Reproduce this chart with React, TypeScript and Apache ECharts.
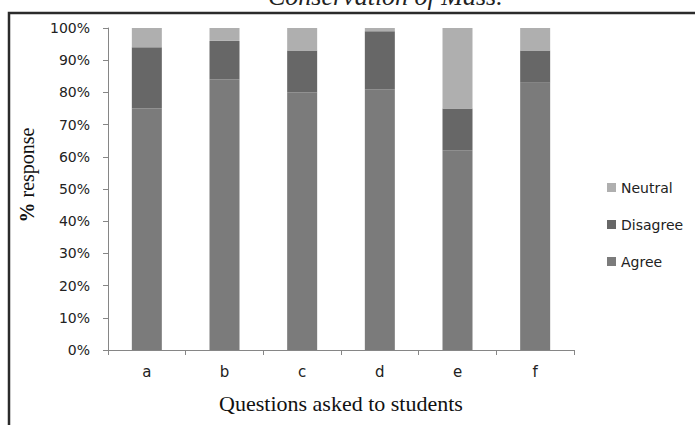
import React, { useEffect, useRef } from "react";
import * as echarts from "echarts";

const categories = ["a", "b", "c", "d", "e", "f"];
const agree = [75, 84, 80, 81, 62, 83];
const disagree = [19, 12, 13, 18, 13, 10];
const neutral = [6, 4, 7, 1, 25, 7];
const yTicks = [0, 10, 20, 30, 40, 50, 60, 70, 80, 90, 100];

const SANS = "'DejaVu Sans', 'Open Sans', sans-serif";
const SERIF = "'Liberation Serif', 'DejaVu Serif', serif";

export default function App() {
  const ref = useRef<HTMLDivElement>(null);

  useEffect(() => {
    if (!ref.current) return;
    const chart = echarts.init(ref.current, undefined, { renderer: "svg" });
    chart.setOption({
      animation: false,
      backgroundColor: "#ffffff",
      grid: { left: 108, top: 28, width: 466, bottom: 75, containLabel: false },
      legend: {
        orient: "vertical",
        left: 602,
        top: 174,
        itemWidth: 9,
        itemHeight: 9,
        itemGap: 20,
        icon: "rect",
        data: ["Neutral", "Disagree", "Agree"],
        textStyle: { fontFamily: SANS, fontSize: 14, color: "#222", lineHeight: 17 },
      },
      xAxis: {
        type: "category",
        data: categories,
        axisLine: { lineStyle: { color: "#868686", width: 1 } },
        axisTick: { show: true, length: 5, lineStyle: { color: "#868686" } },
        axisLabel: { fontFamily: SANS, fontSize: 15, color: "#222", margin: 14 },
        name: "Questions asked to students",
        nameLocation: "middle",
        nameGap: 42,
        nameTextStyle: { fontFamily: SERIF, fontSize: 22, color: "#111" },
      },
      yAxis: {
        type: "value",
        min: 0,
        max: 100,
        interval: 10,
        splitLine: { show: false },
        axisLine: { show: true, lineStyle: { color: "#868686", width: 1 } },
        axisTick: { show: true, length: 5, lineStyle: { color: "#868686" } },
        axisLabel: {
          fontFamily: SANS,
          fontSize: 14,
          color: "#222",
          margin: 18,
          formatter: (v: number) => (yTicks.includes(v) ? v + "%" : ""),
        },
      },
      series: [
        {
          name: "Agree",
          type: "bar",
          stack: "r",
          data: agree,
          barWidth: 30,
          itemStyle: { color: "#7b7b7b" },
        },
        {
          name: "Disagree",
          type: "bar",
          stack: "r",
          data: disagree,
          barWidth: 30,
          itemStyle: { color: "#676767" },
        },
        {
          name: "Neutral",
          type: "bar",
          stack: "r",
          data: neutral,
          barWidth: 30,
          itemStyle: { color: "#afafaf" },
        },
      ],
      graphic: [
        {
          type: "text",
          left: 268,
          top: -17,
          style: {
            text: "Conservation of Mass.",
            font: "italic 26px 'Liberation Serif', serif",
            fill: "#222",
          },
        },
        {
          type: "text",
          x: 27,
          y: 175,
          rotation: Math.PI / 2,
          style: {
            text: "{b|%} response",
            fontFamily: SERIF,
            fontSize: 20,
            fill: "#111",
            align: "center",
            verticalAlign: "middle",
            rich: { b: { fontFamily: SERIF, fontSize: 20, fontWeight: "bold", fill: "#111" } },
          },
        },
        {
          type: "polyline",
          shape: { points: [[9, 430], [9, 13], [700, 13]] },
          style: { stroke: "#2b2b2b", lineWidth: 2.5, fill: "none" },
        },
      ],
    });
    return () => chart.dispose();
  }, []);

  return (
    <div
      ref={ref}
      style={{ position: "fixed", left: 0, top: 0, width: 695, height: 425, background: "#fff" }}
    />
  );
}
